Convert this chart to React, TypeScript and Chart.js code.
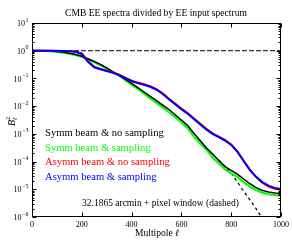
import React, { useEffect, useRef } from "react";
import { Chart, registerables } from "chart.js";

Chart.register(...registerables);

// Multipole values (x axis)
const ell = [0, 25, 50, 75, 100, 125, 150, 175, 200, 225, 250, 275, 300, 325, 350, 375, 400, 425, 450, 475, 500,
  525, 550, 575, 600, 625, 650, 675, 700, 725, 750, 775, 800, 825, 850, 875, 900, 925, 950, 975, 1000];

// log10(B_l^2)
const symmNoSampLog = [0, 0, -0.004, -0.012, -0.025, -0.05, -0.09, -0.14, -0.2, -0.29, -0.39, -0.49, -0.62, -0.76, -0.89,
  -1.03, -1.18, -1.33, -1.49, -1.65, -1.8, -1.96, -2.12, -2.31, -2.5, -2.7, -2.98, -3.24, -3.5, -3.73, -3.96,
  -4.18, -4.32, -4.45, -4.63, -4.8, -4.94, -5.04, -5.1, -5.13, -5.14];
const symmSampLog = [0, 0, -0.008, -0.02, -0.04, -0.07, -0.11, -0.15, -0.22, -0.32, -0.42, -0.52, -0.64, -0.77, -0.9,
  -1.06, -1.22, -1.38, -1.55, -1.72, -1.88, -2.04, -2.22, -2.4, -2.58, -2.79, -3.1, -3.34, -3.57, -3.85, -4.06,
  -4.28, -4.42, -4.55, -4.74, -4.9, -5.03, -5.12, -5.18, -5.21, -5.23];
const asymmNoSampLog = [0, 0, 0, -0.002, -0.005, -0.008, -0.015, -0.03, -0.1, -0.38, -0.58, -0.66, -0.72, -0.78, -0.86,
  -0.97, -1.08, -1.15, -1.21, -1.28, -1.39, -1.54, -1.73, -1.91, -2.09, -2.25, -2.44, -2.63, -2.82, -2.98, -3.1,
  -3.22, -3.38, -3.63, -3.97, -4.3, -4.56, -4.76, -4.9, -4.98, -5.02];
const asymmSampLog = [0, 0, 0, -0.003, -0.006, -0.01, -0.02, -0.04, -0.12, -0.4, -0.6, -0.67, -0.73, -0.8, -0.88,
  -0.99, -1.1, -1.17, -1.23, -1.3, -1.41, -1.56, -1.75, -1.93, -2.11, -2.27, -2.46, -2.65, -2.84, -3.0, -3.12,
  -3.24, -3.4, -3.65, -3.98, -4.3, -4.55, -4.74, -4.87, -4.95, -4.99];

// Beam + pixel window (dashed), visible part only
const beamEll = [750, 775, 800, 825, 850, 875, 900, 925, 950];
const beamLog = [-3.95, -4.17, -4.43, -4.74, -5.07, -5.38, -5.7, -6.05, -6.4];

// Unity reference (dashed)
const unityEll = [0, 1000];
const unityVal = [1, 1];

const xTicks = [0, 200, 400, 600, 800, 1000];
const yDecades = [-6, -5, -4, -3, -2, -1, 0, 1];

const legendItems = [
  { text: "Symm beam & no sampling", color: "#000000" },
  { text: "Symm beam & sampling", color: "#00ff00" },
  { text: "Asymm beam & no sampling", color: "#ff0000" },
  { text: "Asymm beam & sampling", color: "#0000ff" },
];

const titleText = "CMB EE spectra divided by EE input spectrum";
const noteText = "32.1865 arcmin + pixel window (dashed)";
const xLabelText = "Multipole ";

const FONT = '"Liberation Serif", "DejaVu Serif", serif';

const toPts = (xs: number[], logs: number[]) => xs.map((x, i) => ({ x, y: Math.pow(10, logs[i]) }));

const overlay = {
  id: "overlay",
  afterDraw(chart: any) {
    const { ctx, chartArea, scales } = chart;
    const { left, right, top, bottom } = chartArea;
    const xs = scales.x;
    const ys = scales.y;
    ctx.save();
    ctx.strokeStyle = "#000";
    ctx.lineWidth = 1;
    const L = Math.round(left) + 0.5;
    const R = Math.round(right) - 0.5;
    const T = Math.round(top) + 0.5;
    const B = Math.round(bottom) - 0.5;
    ctx.strokeRect(L, T, R - L, B - T);

    // x ticks
    ctx.beginPath();
    xTicks.forEach((v) => {
      const px = Math.round(xs.getPixelForValue(v)) + 0.5;
      ctx.moveTo(px, B);
      ctx.lineTo(px, B - 4);
      ctx.moveTo(px, T);
      ctx.lineTo(px, T + 4);
    });
    // y ticks (major + minor)
    yDecades.forEach((d) => {
      for (let m = 1; m <= 9; m++) {
        const v = m * Math.pow(10, d);
        if (v > 10.0001 || v < 0.9999e-6) continue;
        const py = Math.round(ys.getPixelForValue(v)) + 0.5;
        const len = m === 1 ? 4 : 2;
        ctx.moveTo(L, py);
        ctx.lineTo(L + len, py);
        ctx.moveTo(R, py);
        ctx.lineTo(R - len, py);
      }
    });
    ctx.stroke();

    ctx.fillStyle = "#000";
    // x tick labels
    ctx.font = `8px ${FONT}`;
    ctx.textAlign = "center";
    ctx.textBaseline = "middle";
    xTicks.forEach((v) => {
      ctx.fillText(String(v), xs.getPixelForValue(v), 225);
    });

    // y tick labels 10^d
    yDecades.forEach((d) => {
      const py = ys.getPixelForValue(Math.pow(10, d));
      const exp = d < 0 ? "\u2212" + String(-d) : String(d);
      ctx.font = `8px ${FONT}`;
      const w10 = ctx.measureText("10").width;
      ctx.font = `6px ${FONT}`;
      const we = ctx.measureText(exp).width;
      const xr = 28.5;
      ctx.textAlign = "left";
      ctx.textBaseline = "middle";
      ctx.font = `8px ${FONT}`;
      ctx.fillText("10", xr - we - w10 - 0.5, py + 1);
      ctx.font = `6px ${FONT}`;
      ctx.fillText(exp, xr - we, py - 3);
    });

    // title
    ctx.font = `9.6px ${FONT}`;
    ctx.textAlign = "center";
    ctx.textBaseline = "middle";
    ctx.fillText(titleText, 156, 13);

    // x label
    ctx.font = `9.6px ${FONT}`;
    const wx = ctx.measureText(xLabelText).width;
    ctx.font = `italic 9.6px ${FONT}`;
    const wl = ctx.measureText("\u2113").width;
    const x0 = 157 - (wx + wl) / 2;
    ctx.textAlign = "left";
    ctx.font = `9.6px ${FONT}`;
    ctx.fillText(xLabelText, x0, 233);
    ctx.font = `italic 9.6px ${FONT}`;
    ctx.fillText("\u2113", x0 + wx, 233);

    // y label B_l^2 rotated
    ctx.save();
    ctx.translate(12, 121);
    ctx.rotate(-Math.PI / 2);
    ctx.font = `italic 10px ${FONT}`;
    const wb = ctx.measureText("B").width;
    ctx.textAlign = "left";
    ctx.textBaseline = "middle";
    const bx = -(wb + 4) / 2;
    ctx.fillText("B", bx, 0);
    ctx.font = `italic 6px ${FONT}`;
    ctx.fillText("\u2113", bx + wb, 3);
    ctx.font = `6px ${FONT}`;
    ctx.fillText("2", bx + wb, -4);
    ctx.restore();

    // legend texts
    ctx.font = `10.6px ${FONT}`;
    ctx.textAlign = "left";
    ctx.textBaseline = "middle";
    const ly = [133, 148, 162.5, 177];
    legendItems.forEach((it, i) => {
      ctx.fillStyle = it.color;
      ctx.fillText(it.text, 45, ly[i]);
    });

    // note
    ctx.fillStyle = "#000";
    ctx.font = `9.5px ${FONT}`;
    ctx.fillText(noteText, 82, 203.5);
    ctx.restore();
  },
};

export default function App() {
  const ref = useRef<HTMLCanvasElement | null>(null);
  useEffect(() => {
    if (!ref.current) return;
    const chart = new Chart(ref.current, {
      type: "line",
      data: {
        datasets: [
          { label: "Asymm beam & sampling", data: toPts(ell, asymmSampLog), borderColor: "#0000ff", borderWidth: 2 },
          { label: "Asymm beam & no sampling", data: toPts(ell, asymmNoSampLog), borderColor: "#ff0000", borderWidth: 2 },
          { label: "Symm beam & no sampling", data: toPts(ell, symmNoSampLog), borderColor: "#000000", borderWidth: 1.5 },
          { label: "Symm beam & sampling", data: toPts(ell, symmSampLog), borderColor: "#00ff00", borderWidth: 2.2 },
          { label: "beam", data: toPts(beamEll, beamLog), borderColor: "#000000", borderWidth: 1.2, borderDash: [3, 3] },
          { label: "unity", data: unityEll.map((x, i) => ({ x, y: unityVal[i] })), borderColor: "#000000", borderWidth: 1, borderDash: [5, 2] },
        ] as any,
      },
      options: {
        animation: false,
        responsive: false,
        events: [],
        layout: { padding: { left: 32, right: 11, top: 23, bottom: 23 } },
        plugins: { legend: { display: false }, title: { display: false }, tooltip: { enabled: false } },
        elements: { point: { radius: 0 }, line: { tension: 0 } },
        scales: {
          x: { type: "linear", min: 0, max: 1000, display: false },
          y: { type: "logarithmic", min: 1e-6, max: 10, display: false },
        },
      } as any,
      plugins: [overlay],
    });
    return () => chart.destroy();
  }, []);
  return (
    <div style={{ position: "fixed", left: 0, top: 0, width: 292, height: 240, background: "#fff" }}>
      <canvas ref={ref} width={292} height={240} style={{ display: "block", width: 292, height: 240 }} />
    </div>
  );
}
